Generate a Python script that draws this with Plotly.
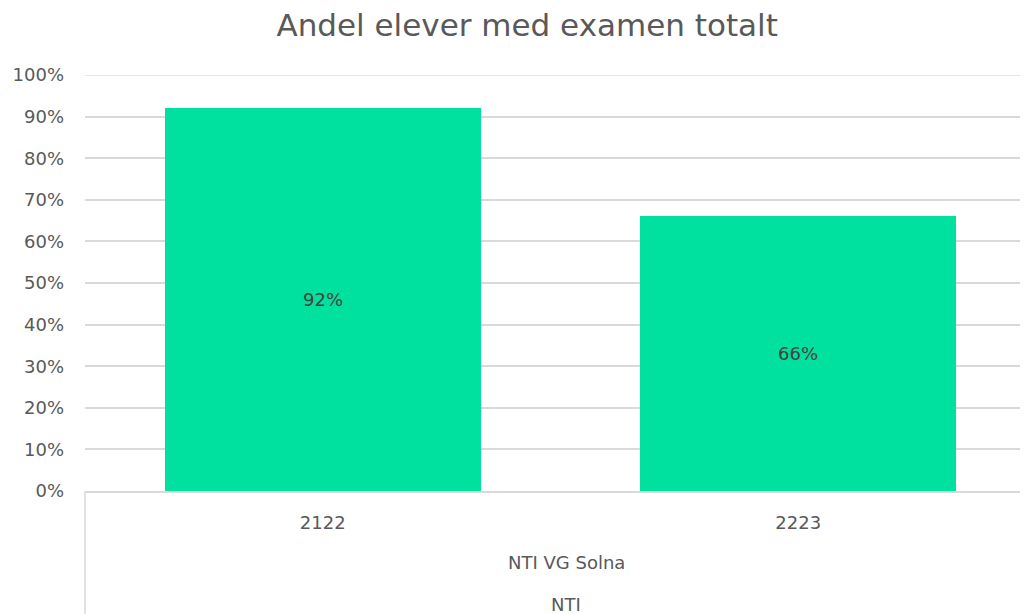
import plotly.graph_objects as go

categories = ["2122", "2223"]
values = [0.92, 0.66]
group_label = "NTI VG Solna"
top_label = "NTI"
title = "Andel elever med examen totalt"

FONT = "DejaVu Sans"
GRAY = "#595959"
GRID = "#d9d9d9"

fig = go.Figure()
fig.add_trace(go.Bar(
    x=categories, y=values,
    marker=dict(color="#00E09E", line=dict(width=0)),
    width=0.665,
    texttemplate="%{y:.0%}", textposition="inside", insidetextanchor="middle",
    textfont=dict(family=FONT, size=18, color="#404040"),
))

fig.update_layout(
    width=1028, height=614,
    margin=dict(l=77, r=0, t=67, b=131, autoexpand=False),
    paper_bgcolor="white", plot_bgcolor="white",
    title=dict(text=title, x=0.505, xanchor="center", y=0.99, yanchor="top",
               font=dict(family=FONT, size=31, color=GRAY)),
    showlegend=False,
    bargap=0,
)
fig.update_xaxes(type="category", range=[-0.5, 1.5], showgrid=False,
                 showline=True, linecolor=GRID, linewidth=1.5,
                 tickfont=dict(family=FONT, size=18, color=GRAY),
                 ticks="", ticklabelstandoff=15, automargin=False)
fig.update_yaxes(range=[0, 1], dtick=0.1, tickformat=".0%",
                 showgrid=True, gridcolor=GRID, gridwidth=1.5,
                 zeroline=False, showline=False, ticks="",
                 tickfont=dict(family=FONT, size=18, color=GRAY),
                 ticklabelstandoff=20, automargin=False)

# top gridline at 100% (edge gridline is not drawn by plotly)
fig.add_shape(type="line", xref="paper", yref="y", x0=0, x1=1, y0=1, y1=1,
              line=dict(color=GRID, width=1.5), layer="below")
fig.add_shape(type="line", xref="paper", yref="paper", x0=0, x1=0, y0=0, y1=-0.34,
              line=dict(color=GRID, width=1.5))
fig.add_annotation(text=group_label, xref="paper", yref="paper", x=0.506, y=-0.173,
                   showarrow=False, font=dict(family=FONT, size=18, color=GRAY),
                   xanchor="center", yanchor="middle")
fig.add_annotation(text=top_label, xref="paper", yref="paper", x=0.506, y=-0.274,
                   showarrow=False, font=dict(family=FONT, size=18, color=GRAY),
                   xanchor="center", yanchor="middle")

fig.write_html("out.html")
